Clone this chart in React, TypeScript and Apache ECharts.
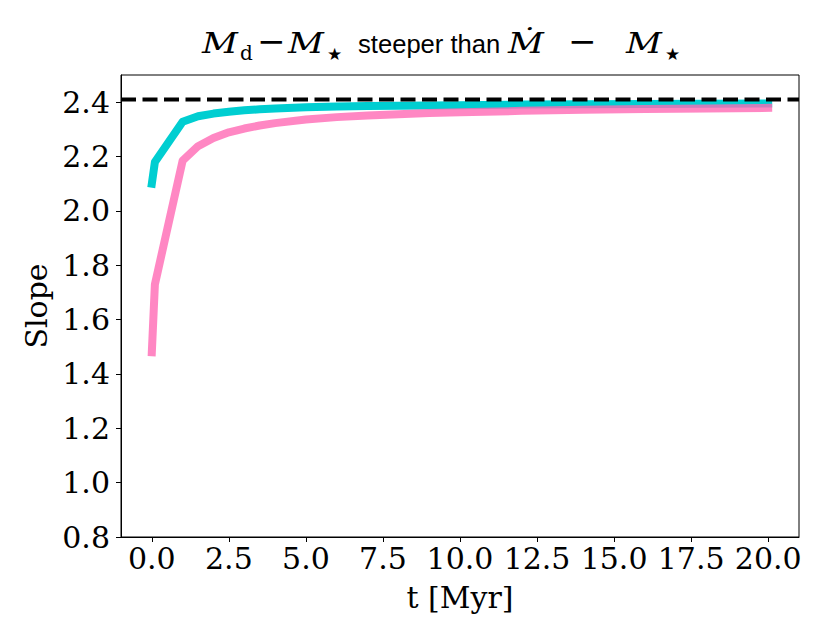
import React, { useEffect, useRef } from "react";
import * as echarts from "echarts";

// ---- data ----
const T_MYR = [0, 0.1, 1, 1.5, 2, 2.5, 3, 3.5, 4, 5, 6, 7, 8, 9, 10, 12, 14, 16, 18, 20];
const SLOPE_CYAN = [2.1, 2.18, 2.328, 2.348, 2.358, 2.365, 2.37, 2.374, 2.377, 2.381, 2.384, 2.386, 2.387, 2.388, 2.389, 2.391, 2.392, 2.393, 2.394, 2.395];
const SLOPE_PINK = [1.48, 1.73, 2.185, 2.238, 2.268, 2.289, 2.303, 2.314, 2.323, 2.336, 2.345, 2.351, 2.356, 2.36, 2.363, 2.368, 2.372, 2.375, 2.377, 2.379];
const REF_SLOPE = 2.41;
const X_RANGE = [-1, 21];
const Y_RANGE = [0.8, 2.5];
const X_TICKS = [0, 2.5, 5, 7.5, 10, 12.5, 15, 17.5, 20];
const Y_TICKS = [0.8, 1.0, 1.2, 1.4, 1.6, 1.8, 2.0, 2.2, 2.4];

const SERIF = '"DejaVu Serif", serif';
const SANS = '"DejaVu Sans", sans-serif';

function tok(text: string, x: number, baseline: number, size: number, family: string, italic = false, sx = 1) {
  return {
    type: "text",
    x,
    y: baseline - 0.346 * size,
    scaleX: sx,
    silent: true,
    style: {
      text,
      font: `${italic ? "italic " : ""}${size}px ${family}`,
      fill: "#000",
      align: "left",
      verticalAlign: "middle",
      textAlign: "left",
      textVerticalAlign: "middle",
    },
  };
}

export default function App() {
  const ref = useRef<HTMLDivElement>(null);
  useEffect(() => {
    if (!ref.current) return;
    const chart = echarts.init(ref.current, undefined, { renderer: "svg" });
    const base = 53;
    const sub = 60;
    const option: any = {
      animation: false,
      backgroundColor: "#fff",
      grid: {
        left: 121,
        right: 32,
        top: 75,
        bottom: 102,
        show: true,
        borderColor: "#000",
        borderWidth: 1,
        backgroundColor: "transparent",
      },
      xAxis: {
        type: "value",
        min: X_RANGE[0],
        max: X_RANGE[1],
        name: "t [Myr]",
        nameLocation: "middle",
        nameGap: 45,
        nameTextStyle: { fontFamily: SERIF, fontSize: 30, color: "#000" },
        axisLine: { show: true, onZero: false, lineStyle: { color: "#000", width: 1 } },
        axisTick: { show: true, inside: false, length: 5, lineStyle: { color: "#000", width: 1 }, customValues: X_TICKS },
        axisLabel: {
          customValues: X_TICKS,
          formatter: (v: number) => v.toFixed(1),
          fontFamily: SERIF,
          fontSize: 30,
          color: "#000",
          margin: 6,
        },
        splitLine: { show: false },
      },
      yAxis: {
        type: "value",
        min: Y_RANGE[0],
        max: Y_RANGE[1],
        name: "Slope",
        nameLocation: "middle",
        nameGap: 66,
        nameTextStyle: { fontFamily: SERIF, fontSize: 30, color: "#000" },
        axisLine: { show: true, onZero: false, lineStyle: { color: "#000", width: 1 } },
        axisTick: { show: true, inside: false, length: 5, lineStyle: { color: "#000", width: 1 }, customValues: Y_TICKS },
        axisLabel: {
          customValues: Y_TICKS,
          formatter: (v: number) => v.toFixed(1),
          fontFamily: SERIF,
          fontSize: 30,
          color: "#000",
          margin: 11,
        },
        splitLine: { show: false },
      },
      series: [
        {
          type: "line",
          data: T_MYR.map((t, i) => [t, SLOPE_CYAN[i]]),
          symbol: "none",
          showSymbol: false,
          smooth: false,
          z: 2,
          lineStyle: { color: "#00CED1", width: 8, cap: "square", join: "round" },
        },
        {
          type: "line",
          data: T_MYR.map((t, i) => [t, SLOPE_PINK[i]]),
          symbol: "none",
          showSymbol: false,
          smooth: false,
          z: 3,
          lineStyle: { color: "rgb(255,105,180)", opacity: 0.8, width: 8, cap: "square", join: "round" },
        },
        {
          type: "line",
          data: [
            [X_RANGE[0], REF_SLOPE],
            [X_RANGE[1], REF_SLOPE],
          ],
          symbol: "none",
          showSymbol: false,
          z: 4,
          lineStyle: { color: "#000", width: 4, type: [15, 6.5], cap: "butt" },
        },
      ],
      graphic: [
        tok("M", 202, base, 28, SERIF, true, 1.25),
        tok("d", 240, sub, 20, SERIF),
        tok("\u2212", 257, base, 34, SERIF),
        tok("M", 288, base, 28, SERIF, true, 1.25),
        tok("\u2605", 327, sub, 17, SANS),
        tok("steeper than", 358, base, 25.6, '"Liberation Sans", Arial, sans-serif'),
        tok("\u1E40", 508, base, 28, SERIF, true, 1.25),
        tok("\u2212", 568, base, 34, SERIF),
        tok("M", 626, base, 28, SERIF, true, 1.25),
        tok("\u2605", 665, sub, 17, SANS),
      ],
    };
    chart.setOption(option);
    return () => chart.dispose();
  }, []);
  return (
    <div
      ref={ref}
      style={{ position: "absolute", left: 0, top: 0, width: 831, height: 639, background: "#fff" }}
    />
  );
}
